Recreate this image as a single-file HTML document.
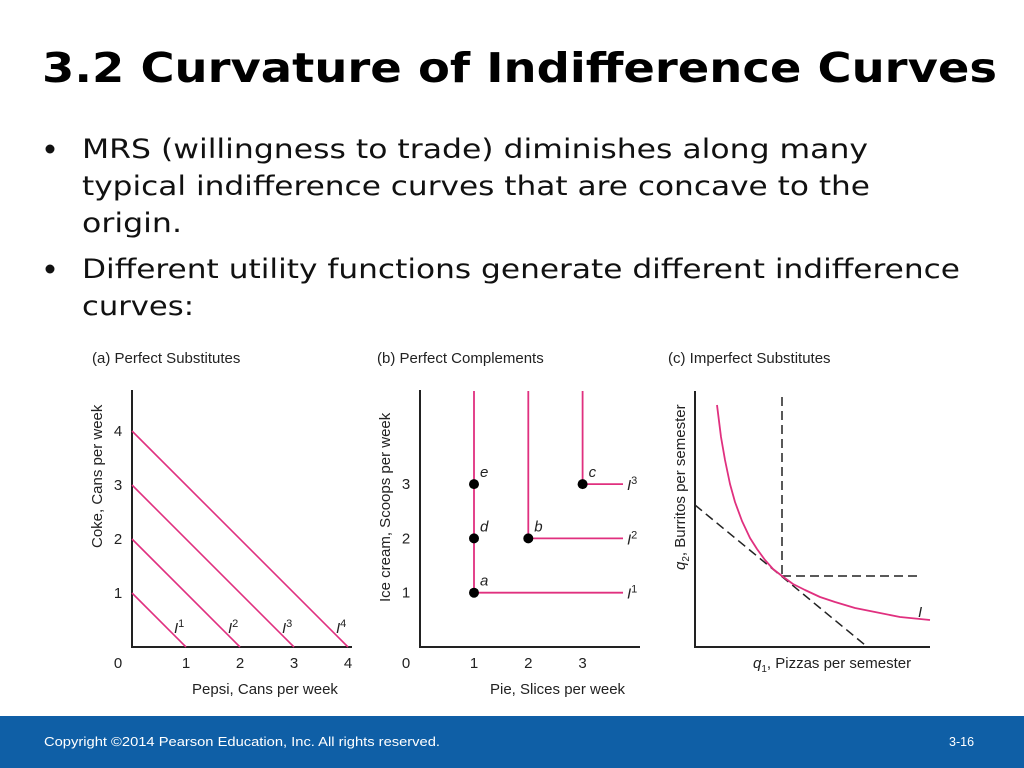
<!DOCTYPE html>
<html><head><meta charset="utf-8"><style>
html,body{margin:0;padding:0;background:#fff;width:1024px;height:768px;overflow:hidden}
svg{display:block}
.t{font-family:"DejaVu Sans","Liberation Sans",sans-serif}
.a{font-family:"Liberation Sans",sans-serif;font-size:15px;fill:#222}
</style></head><body>
<svg id="s" width="1024" height="768" viewBox="0 0 1024 768">
<text class="t" x="42" y="82" font-size="41" font-weight="bold" textLength="955" lengthAdjust="spacingAndGlyphs">3.2  Curvature of Indifference Curves</text>
<g class="t" font-size="27" fill="#111">
<circle cx="50" cy="149" r="4.5" fill="#111"/>
<text x="82" y="158" textLength="786" lengthAdjust="spacingAndGlyphs">MRS (willingness to trade) diminishes along many</text>
<text x="82" y="195" textLength="788" lengthAdjust="spacingAndGlyphs">typical indifference curves that are concave to the</text>
<text x="82" y="232" textLength="100" lengthAdjust="spacingAndGlyphs">origin.</text>
<circle cx="50" cy="269" r="4.5" fill="#111"/>
<text x="82" y="278" textLength="878" lengthAdjust="spacingAndGlyphs">Different utility functions generate different indifference</text>
<text x="82" y="315" textLength="112" lengthAdjust="spacingAndGlyphs">curves:</text>
</g>
<g id="pa"></g>
<g id="pb"></g>
<g id="pc"></g>
<rect x="0" y="716" width="1024" height="52" fill="#0f5fa6"/>
<text x="44" y="746" font-family="'Liberation Sans',sans-serif" font-size="12.5" fill="#fff" textLength="396" lengthAdjust="spacingAndGlyphs">Copyright ©2014 Pearson Education, Inc. All rights reserved.</text>
<text x="949" y="746" font-family="'Liberation Sans',sans-serif" font-size="12.5" fill="#fff">3-16</text>
</svg>
<script>
// Panel (a) data
const aCurves = [1, 2, 3, 4];
const aTicks = ["0", "1", "2", "3", "4"];
// Panel (b) data: corner points (pie, ice cream)
const bCornerX = [1, 2, 3];
const bCornerY = [1, 2, 3];
const bExtraPts = [[1, 2, 'd'], [1, 3, 'e']];
const bCornerLabels = ['a', 'b', 'c'];
const bTicks = ["0", "1", "2", "3"];
// Panel (c) data: indifference curve samples (q1, q2) in relative units
const cQ1 = [22, 26, 30, 35, 40, 47, 55, 62, 70, 78, 87, 98, 110, 125, 140, 160, 180, 205, 235];
const cQ2 = [242, 210, 187, 163, 145, 126, 109, 98, 87, 78, 71, 63, 57, 50, 45, 39, 35, 30, 27];
const cTangentPt = [87, 71];
const cTangentEnds = [[0, 142], [170, 2]];

const NS = 'http://www.w3.org/2000/svg';
const PINK = '#e0307f';
function mk(parent, tag, attrs, txt) {
  const e = document.createElementNS(NS, tag);
  for (const k in attrs) e.setAttribute(k, attrs[k]);
  if (txt !== undefined) e.textContent = txt;
  parent.appendChild(e);
  return e;
}
function sup(parent, x, y, base, s, name) {
  const t = mk(parent, 'text', {x: x, y: y, class: 'a', 'font-style': 'italic'});
  
  
  mk(t, 'tspan', {}, base);
  mk(t, 'tspan', {dy: -6, 'font-size': 11, 'font-style': 'normal'}, s);
}

// ---------- Panel A ----------
(function () {
  const g = document.getElementById('pa');
  const X0 = 132, Y0 = 647, U = 54;
  const sx = v => X0 + v * U, sy = v => Y0 - v * U;
  const t = mk(g, 'text', {x: 92, y: 363, class: 'a'}, '(a) Perfect Substitutes');
   
  const ax = mk(g, 'path', {d: `M${X0} 390 V${Y0} H352`, stroke: '#222', 'stroke-width': 2, fill: 'none'});
   
  aTicks.forEach((lb, i) => {
    const tx = mk(g, 'text', {x: i === 0 ? 118 : sx(i), y: 668, class: 'a', 'text-anchor': 'middle'}, lb);
     
    if (i > 0) {
      const ty = mk(g, 'text', {x: 118, y: sy(i) + 5, class: 'a', 'text-anchor': 'middle'}, lb);
       
    }
  });
  aCurves.forEach((k, i) => {
    const l = mk(g, 'line', {x1: sx(0), y1: sy(k), x2: sx(k), y2: sy(0), stroke: PINK, 'stroke-width': 1.6});
     
    sup(g, sx(k) - 12, Y0 - 14, 'I', String(i + 1), 'label-I' + (i + 1));
  });
  const yt = mk(g, 'text', {x: 0, y: 0, class: 'a', transform: 'translate(102,548) rotate(-90)'}, 'Coke, Cans per week');
   
  const xt = mk(g, 'text', {x: 192, y: 694, class: 'a'}, 'Pepsi, Cans per week');
   
})();

// ---------- Panel B ----------
(function () {
  const g = document.getElementById('pb');
  const X0 = 420, Y0 = 647, U = 54.3;
  const sx = v => X0 + v * U - 0.3, sy = v => Y0 - v * U;
  const t = mk(g, 'text', {x: 377, y: 363, class: 'a'}, '(b) Perfect Complements');
   
  const ax = mk(g, 'path', {d: `M${X0} 390 V${Y0} H640`, stroke: '#222', 'stroke-width': 2, fill: 'none'});
   
  bTicks.forEach((lb, i) => {
    const tx = mk(g, 'text', {x: i === 0 ? 406 : sx(i), y: 668, class: 'a', 'text-anchor': 'middle'}, lb);
     
    if (i > 0) {
      const ty = mk(g, 'text', {x: 406, y: sy(i) + 5, class: 'a', 'text-anchor': 'middle'}, lb);
       
    }
  });
  bCornerX.forEach((cx, i) => {
    const cy = bCornerY[i];
    const p = mk(g, 'path', {d: `M${sx(cx)} 391 V${sy(cy)} H623`, stroke: PINK, 'stroke-width': 1.8, fill: 'none'});
     
    const d = mk(g, 'circle', {cx: sx(cx), cy: sy(cy), r: 5, fill: '#000'});
     
    const lt = mk(g, 'text', {x: sx(cx) + 6, y: sy(cy) - 7, class: 'a', 'font-style': 'italic'}, bCornerLabels[i]);
     
    sup(g, 627, sy(cy) + 6, 'I', String(i + 1), 'label-I' + (i + 1));
  });
  bExtraPts.forEach(pt => {
    const d = mk(g, 'circle', {cx: sx(pt[0]), cy: sy(pt[1]), r: 5, fill: '#000'});
     
    const lt = mk(g, 'text', {x: sx(pt[0]) + 6, y: sy(pt[1]) - 7, class: 'a', 'font-style': 'italic'}, pt[2]);
     
  });
  const yt = mk(g, 'text', {x: 0, y: 0, class: 'a', transform: 'translate(390,602) rotate(-90)'}, 'Ice cream, Scoops per week');
   
  const xt = mk(g, 'text', {x: 490, y: 694, class: 'a'}, 'Pie, Slices per week');
   
})();

// ---------- Panel C ----------
(function () {
  const g = document.getElementById('pc');
  const X0 = 695, Y0 = 647;
  const sx = v => X0 + v, sy = v => Y0 - v;
  const t = mk(g, 'text', {x: 668, y: 363, class: 'a'}, '(c) Imperfect Substitutes');
   
  const ax = mk(g, 'path', {d: `M${X0} 391 V${Y0} H930`, stroke: '#222', 'stroke-width': 2, fill: 'none'});
   
  const tx = sx(cTangentPt[0]), ty = sy(cTangentPt[1]);
  const v = mk(g, 'line', {x1: tx, y1: 397, x2: tx, y2: ty, stroke: '#222', 'stroke-width': 1.5, 'stroke-dasharray': '9 5'});
   
  const h = mk(g, 'line', {x1: tx, y1: ty, x2: 920, y2: ty, stroke: '#222', 'stroke-width': 1.5, 'stroke-dasharray': '9 5'});
   
  const tg = mk(g, 'line', {x1: sx(cTangentEnds[0][0]), y1: sy(cTangentEnds[0][1]), x2: sx(cTangentEnds[1][0]), y2: sy(cTangentEnds[1][1]), stroke: '#222', 'stroke-width': 1.5, 'stroke-dasharray': '9 5'});
   
  let d = '';
  cQ1.forEach((q, i) => { d += (i ? ' L' : 'M') + sx(q) + ' ' + sy(cQ2[i]); });
  const c = mk(g, 'path', {d: d, stroke: PINK, 'stroke-width': 1.8, fill: 'none', 'stroke-linejoin': 'round'});
   
  const il = mk(g, 'text', {x: 918, y: 617, class: 'a', 'font-style': 'italic'}, 'I');
   
  const yt = mk(g, 'text', {x: 0, y: 0, class: 'a', transform: 'translate(685,570) rotate(-90)'});
   
  mk(yt, 'tspan', {'font-style': 'italic'}, 'q');
  mk(yt, 'tspan', {dy: 4, 'font-size': 10}, '2');
  mk(yt, 'tspan', {dy: -4}, ', Burritos per semester');
  const xt = mk(g, 'text', {x: 753, y: 668, class: 'a'});
   
  mk(xt, 'tspan', {'font-style': 'italic'}, 'q');
  mk(xt, 'tspan', {dy: 4, 'font-size': 10}, '1');
  mk(xt, 'tspan', {dy: -4}, ', Pizzas per semester');
})();
</script>
</body></html>
